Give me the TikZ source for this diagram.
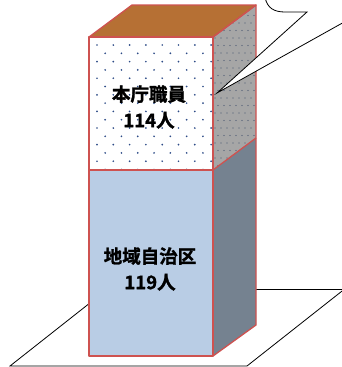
\documentclass[tikz,border=0pt]{standalone}
\usepackage{fontspec}
\newfontfamily\jp{Noto Sans CJK JP}[BoldFont={* Bold}, BoldFeatures={FakeBold=1.5}]
\definecolor{edgered}{RGB}{206,82,80}
\definecolor{topbrown}{RGB}{182,112,52}
\definecolor{frontblue}{RGB}{185,205,229}
\definecolor{sideslate}{RGB}{117,130,144}
\definecolor{sidegray}{RGB}{166,166,166}
\definecolor{dotblue}{RGB}{45,75,135}
\definecolor{dotgray}{RGB}{70,85,110}
\tikzset{
  face/.style={draw=edgered, line width=1.3pt, line join=round},
  lbl/.style={font=\jp\bfseries\fontsize{18.5}{26}\selectfont, align=center, inner sep=0pt},
  floorline/.style={draw=black, line width=0.8pt},
}
\begin{document}
\begin{tikzpicture}[x=1pt,y=-1pt]
\useasboundingbox (0,0) rectangle (342,367);
\clip (0,0) rectangle (342,367);
% floor
\draw[floorline, fill=white] (10,366) -- (247,366) -- (344,289.5) -- (107,289.5) -- cycle;
% coordinates
\coordinate (ftl) at (89,37);
\coordinate (ftr) at (213,37);
\coordinate (fml) at (89,170);
\coordinate (fmr) at (213,170);
\coordinate (fbl) at (89,356);
\coordinate (fbr) at (213,356);
\coordinate (btl) at (132,5);
\coordinate (btr) at (256,5);
\coordinate (bmr) at (256,138);
\coordinate (bbr) at (256,325);
% top face
\fill[topbrown] (ftl) -- (btl) -- (btr) -- (ftr) -- cycle;
% upper right face
\fill[sidegray] (ftr) -- (btr) -- (bmr) -- (fmr) -- cycle;
\begin{scope}
\clip (ftr) -- (btr) -- (bmr) -- (fmr) -- cycle;
\foreach \r in {0,...,22} {
  \foreach \c in {0,...,7} {
    \pgfmathsetmacro{\xx}{215+\c*6+mod(\r,2)*3}
    \pgfmathsetmacro{\yy}{8+\r*7.5}
    \fill[dotgray] (\xx,\yy) circle (0.6);
  }
}
\end{scope}
% lower right face
\fill[sideslate] (fmr) -- (bmr) -- (bbr) -- (fbr) -- cycle;
% front white
\fill[white] (ftl) rectangle (fmr);
\begin{scope}
\clip (ftl) rectangle (fmr);
\foreach \r in {0,...,15} {
  \foreach \c in {0,...,8} {
    \pgfmathsetmacro{\xx}{97+\c*16.3+mod(\r,2)*8.15}
    \pgfmathsetmacro{\yy}{45+\r*8.3}
    \fill[dotblue] (\xx,\yy) circle (0.95);
  }
}
\end{scope}
% front blue
\fill[frontblue] (fml) rectangle (fbr);
% edges
\draw[face] (ftl) -- (btl) -- (btr) -- (ftr) -- cycle;
\draw[face] (ftr) -- (btr) -- (bbr) -- (fbr);
\draw[face] (fmr) -- (bmr);
\draw[face] (ftl) rectangle (fbr);
\draw[face] (fml) -- (fmr);
% labels
\node[lbl] (upper) at (149,107) {本庁職員\\114人};
\node[lbl] (lower) at (150,269) {地域自治区\\119人};
% callout
\coordinate (tip) at (217,93);
\draw[black, line width=0.8pt, fill=white, line join=miter]
  (265,-3) .. controls (267,8) and (274,12) .. (285,12) -- (307,12) -- (tip) -- (346,21) -- (346,-3);
\end{tikzpicture}
\end{document}
